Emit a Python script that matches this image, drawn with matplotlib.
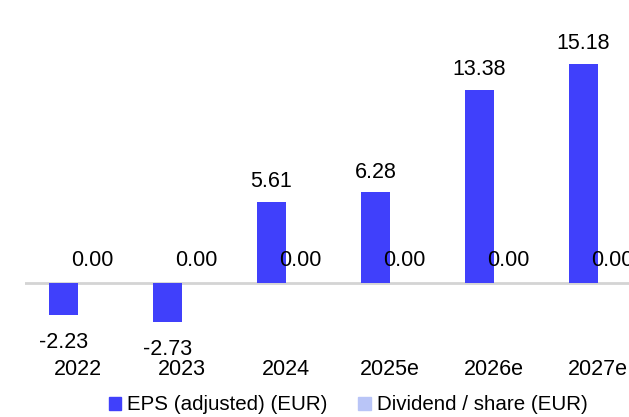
import matplotlib.pyplot as plt
import numpy as np
from matplotlib.patches import Patch

plt.rcParams['font.family'] = ['Liberation Sans', 'DejaVu Sans']

years = ['2022', '2023', '2024', '2025e', '2026e', '2027e']
eps = [-2.23, -2.73, 5.61, 6.28, 13.38, 15.18]
dividend = [0.00, 0.00, 0.00, 0.00, 0.00, 0.00]

eps_color = '#4040fb'
div_color = '#b9c5f7'
fs = 15.5

W, H = 629, 417
fig = plt.figure(figsize=(W / 100, H / 100), dpi=100)
# axes placed in pixel terms: left 25, right 629, top 20, bottom 348
ax = fig.add_axes([25 / W, 1 - 348 / H, (629 - 25) / W, (348 - 20) / H])

x = np.arange(len(years))
w = 0.28
ax.bar(x - w / 2, eps, w, color=eps_color)
ax.bar(x + w / 2, dividend, w, color=div_color)

ax.set_xlim(-0.51, 5.30)
ax.set_ylim(-4.5, 18.23)
ax.axhline(0, color='#d4d4d4', lw=2, zorder=0)

for xi, v in zip(x - w / 2, eps):
    off = 7 if v >= 0 else -12
    ax.annotate(f'{v:.2f}', (xi, v), xytext=(0, off), textcoords='offset points',
                ha='center', va='bottom' if v >= 0 else 'top', fontsize=fs,
                annotation_clip=False)
for xi, v in zip(x + w / 2, dividend):
    ax.annotate(f'{v:.2f}', (xi, v), xytext=(0, 9), textcoords='offset points',
                ha='center', va='bottom', fontsize=fs, annotation_clip=False)

ax.set_xticks(x)
ax.set_xticklabels(years, fontsize=fs)
ax.tick_params(axis='x', length=0, pad=8)
ax.set_yticks([])
for s in ax.spines.values():
    s.set_visible(False)

handles = [Patch(color=eps_color), Patch(color=div_color)]
fig.legend(handles, ['EPS (adjusted) (EUR)', 'Dividend / share (EUR)'],
           loc='center', bbox_to_anchor=(348 / W, 1 - 405 / H), ncol=2,
           frameon=False, fontsize=14.8, handlelength=0.6, handleheight=0.6,
           handletextpad=0.3, columnspacing=1.5)

fig.savefig('out.png', dpi=100)
